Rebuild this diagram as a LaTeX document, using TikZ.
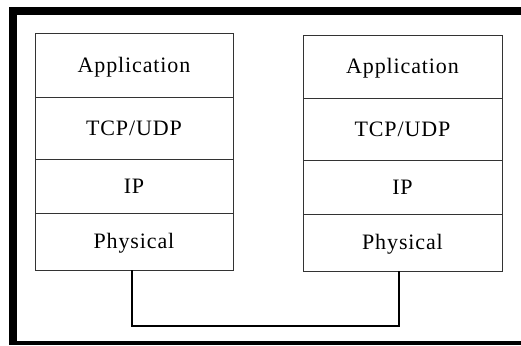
\documentclass[tikz,border=0pt]{standalone}
\usepackage{fontspec}
\setmainfont{Liberation Serif}
\newfontfamily\lblfont[LetterSpace=4]{Liberation Serif}
\begin{document}
\begin{tikzpicture}[x=1pt,y=-1pt,
  layer/.style={draw=black!80, line width=0.8pt, inner sep=0pt,
    font=\lblfont\fontsize{22}{26}\selectfont, text height=16pt, text depth=1.4pt},
  lft/.style={layer, minimum width=198pt},
  rgt/.style={layer, minimum width=199pt},
  frame/.style={fill=black, draw=none},
  wire/.style={line width=2pt}]
\useasboundingbox (0,0) rectangle (521,345);
\fill[white] (0,0) rectangle (521,345);
% frame
\path[frame] (9,7) rectangle (521,15);
\path[frame] (9,7) rectangle (17,345);
\path[frame] (9,341) rectangle (521,345);
% left stack
\node[lft, minimum height=64pt] (lapp) at (134,65) {Application};
\node[lft, minimum height=62pt] (ltcp) at (134,128) {TCP/UDP};
\node[lft, minimum height=54pt] (lip)  at (134,186) {IP};
\node[lft, minimum height=57pt] (lphy) at (134,241.5) {Physical};
% right stack
\node[rgt, minimum height=63pt] (rapp) at (402.5,66.5) {Application};
\node[rgt, minimum height=62pt] (rtcp) at (402.5,129) {TCP/UDP};
\node[rgt, minimum height=54pt] (rip)  at (402.5,187) {IP};
\node[rgt, minimum height=57pt] (rphy) at (402.5,242.5) {Physical};
% connector
\draw[wire] ([xshift=-2.5pt]lphy.south) -- ++(0,56) -| ([xshift=-3.5pt]rphy.south);
\end{tikzpicture}
\end{document}
